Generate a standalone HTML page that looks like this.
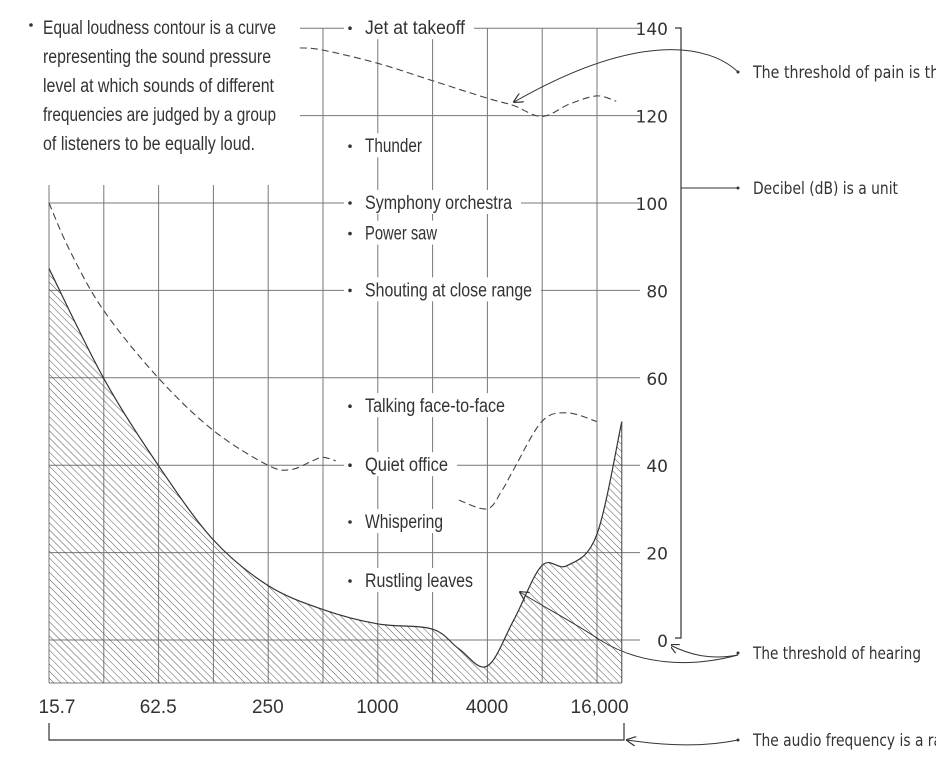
<!DOCTYPE html>
<html><head><meta charset="utf-8"><style>
html,body{margin:0;padding:0;background:#fff;}
svg{display:block;font-family:"Liberation Sans Narrow","Liberation Sans",sans-serif;}
.t{font-size:19px;fill:#333;}
.r{font-size:17px;fill:#333;font-family:"DejaVu Sans","Liberation Sans",sans-serif;}
.g{stroke:#777;stroke-width:1;fill:none;}
</style></head><body>
<svg id="chart" width="936" height="763" viewBox="0 0 936 763">
<defs>
<pattern id="hatch" patternUnits="userSpaceOnUse" width="5" height="5" patternTransform="rotate(-45)">
<line x1="0" y1="0" x2="0" y2="5" stroke="#555" stroke-width="1"/>
</pattern>
<marker id="ah" viewBox="0 0 10 10" refX="9" refY="5" markerWidth="10" markerHeight="10" orient="auto">
<path d="M0,0 L10,5 L0,10" fill="none" stroke="#333" stroke-width="1.2"/>
</marker>
</defs>
<g id="grid"></g>
<g id="marks"></g>
<g id="labels"></g>
</svg>
<script>
const freqTicks = [15.7, 62.5, 250, 1000, 4000, 16000];
const freqTickLabels = ["15.7", "62.5", "250", "1000", "4000", "16,000"];
const dbTicks = [0, 20, 40, 60, 80, 100, 120, 140];
const hearingFreq = [15.7, 31.25, 62.5, 125, 250, 500, 1000, 2000, 2800, 4000, 5600, 8000, 11000, 16000, 22000];
const hearingDb = [85, 60, 40, 23, 12.5, 7, 3.7, 2.5, -2, -6, 4.5, 17, 17, 24, 50];
const painF = [375, 500, 1000, 2000, 4000, 5600, 8000, 11300, 16000, 20500];
const painD = [135.5, 135, 132, 128, 124, 122.3, 119.8, 122.6, 124.5, 123.3];
const midF1 = [15.7, 20.5, 31.25, 62.5, 125, 250, 335, 440, 500, 590];
const midD1 = [100, 89, 75.5, 60, 48, 40, 39, 41, 41.8, 41];
const midF2 = [2800, 4000, 4800, 5600, 8000, 11000, 16000];
const midD2 = [32, 30, 34, 39, 50, 52, 50];
const items = ["Jet at takeoff","Thunder","Symphony orchestra","Power saw","Shouting at close range","Talking face-to-face","Quiet office","Whispering","Rustling leaves"];
const itemDb = [140, 113, 100, 93, 80, 53.5, 40, 27, 13.5];
const itemW = [100, 57, 147, 72, 167, 140, 83, 78, 108];

const NS = "http://www.w3.org/2000/svg";
const xF = f => 49 + 54.8 * Math.log2(f / 15.7);
const yD = d => 640 - 4.37 * d;
function el(p, tag, attrs, txt){const e=document.createElementNS(NS,tag);for(const k in attrs)e.setAttribute(k,attrs[k]);if(txt!=null)e.textContent=txt;p.appendChild(e);return e;}
function smooth(pts){let d="M"+pts[0][0]+","+pts[0][1];for(let i=0;i<pts.length-1;i++){const p0=pts[i-1]||pts[i],p1=pts[i],p2=pts[i+1],p3=pts[i+2]||p2;const c1=[p1[0]+(p2[0]-p0[0])/6,p1[1]+(p2[1]-p0[1])/6],c2=[p2[0]-(p3[0]-p1[0])/6,p2[1]-(p3[1]-p1[1])/6];d+=" C"+c1[0].toFixed(1)+","+c1[1].toFixed(1)+" "+c2[0].toFixed(1)+","+c2[1].toFixed(1)+" "+p2[0].toFixed(1)+","+p2[1].toFixed(1);}return d;}
const grid=document.getElementById("grid"),marks=document.getElementById("marks"),labels=document.getElementById("labels");
const yBot=683, xEnd=xF(22000);

const hp=hearingFreq.map((f,i)=>[xF(f),yD(hearingDb[i])]);
let area=el(marks,"path",{d:smooth(hp)+" L"+hp[hp.length-1][0]+","+yBot+" L"+hp[0][0]+","+yBot+" Z",fill:"url(#hatch)",stroke:"none"});



for(let k=0;k<=10;k++){const x=49+54.8*k;const top=x>300?28:185;
 const v=el(grid,"line",{x1:x,y1:top,x2:x,y2:yBot,class:"g"});
 
 }
el(grid,"line",{x1:49,y1:yBot,x2:xEnd,y2:yBot,class:"g"});
dbTicks.forEach(d=>{const y=yD(d);const x1=d>=120?300:49;
 const h=el(grid,"line",{x1:x1,y1:y,x2:640,y2:y,class:"g"});
 
 });

let hc=el(marks,"path",{d:smooth(hp),fill:"none",stroke:"#333","stroke-width":1.2});


el(marks,"line",{x1:xEnd,y1:yD(50),x2:xEnd,y2:yBot,stroke:"#444"});
[[painF,painD,'pain-curve'],[midF1,midD1,'contour-curve-low'],[midF2,midD2,'contour-curve-high']].forEach(([fs,ds,n])=>{
 const c=el(marks,"path",{d:smooth(fs.map((f,i)=>[xF(f),yD(ds[i])])),fill:"none",stroke:"#444","stroke-width":1.1,"stroke-dasharray":"7 4"});
 
 });

items.forEach((t,i)=>{const y=yD(itemDb[i]);
 const w=itemW[i];
 el(labels,"rect",{x:344,y:y-13,width:w+30,height:24,fill:"#fff"});
 el(labels,"circle",{cx:350,cy:y,r:1.8,fill:"#333"});
 const tx=el(labels,"text",{x:365,y:y+6,class:"t",textLength:w,lengthAdjust:"spacingAndGlyphs"},t);
 
 });

dbTicks.forEach(d=>{const y=yD(d);el(labels,"rect",{x:641,y:y-11,width:30,height:22,fill:"#fff"});
 const tx=el(labels,"text",{x:668,y:y+7,class:"r","text-anchor":"end"},String(d));
 
 });
freqTicks.forEach((f,i)=>{const x=xF(f)+(i==0?8:i==5?3:0);
 const tx=el(labels,"text",{x:x,y:713,class:"t","text-anchor":"middle","font-size":20},freqTickLabels[i]);
 
 });

const para=["Equal loudness contour is a curve","representing the sound pressure","level at which sounds of different","frequencies are judged by a group","of listeners to be equally loud."];
const paraW=[233,228,231,233,212];
el(labels,"circle",{cx:31,cy:25,r:1.8,fill:"#333"});
para.forEach((t,i)=>{const tx=el(labels,"text",{x:43,y:34+29*i,class:"t",textLength:paraW[i],lengthAdjust:"spacingAndGlyphs"},t);
 
 });

el(marks,"path",{d:"M675,28 H681 V638 H675",fill:"none",stroke:"#333","stroke-width":1.2});
el(marks,"path",{d:"M681,188 H738",fill:"none",stroke:"#333"});
el(marks,"path",{d:"M738,72 C710,45 640,30 514,102",fill:"none",stroke:"#333","marker-end":"url(#ah)"});
el(marks,"path",{d:"M738,655 C710,660 690,655 670,645",fill:"none",stroke:"#333","marker-end":"url(#ah)"});
el(marks,"path",{d:"M738,655 C690,668 640,665 600,640 C570,620 540,605 520,592",fill:"none",stroke:"#333","marker-end":"url(#ah)"});
el(marks,"path",{d:"M49,723 V740 H624 V723",fill:"none",stroke:"#333","stroke-width":1.2});
el(marks,"path",{d:"M738,740 C700,748 660,745 627,740",fill:"none",stroke:"#333","marker-end":"url(#ah)"});
[[72,"The threshold of pain is the",195],[188,"Decibel (dB) is a unit",145],[653,"The threshold of hearing",168],[740,"The audio frequency is a range",215]].forEach(([y,t,w])=>{
 el(labels,"circle",{cx:738,cy:y,r:1.5,fill:"#333"});
 const tx=el(labels,"text",{x:753,y:y+6,class:"r","font-size":16,textLength:w,lengthAdjust:"spacingAndGlyphs"},t);
 
 });
</script>
</body></html>
